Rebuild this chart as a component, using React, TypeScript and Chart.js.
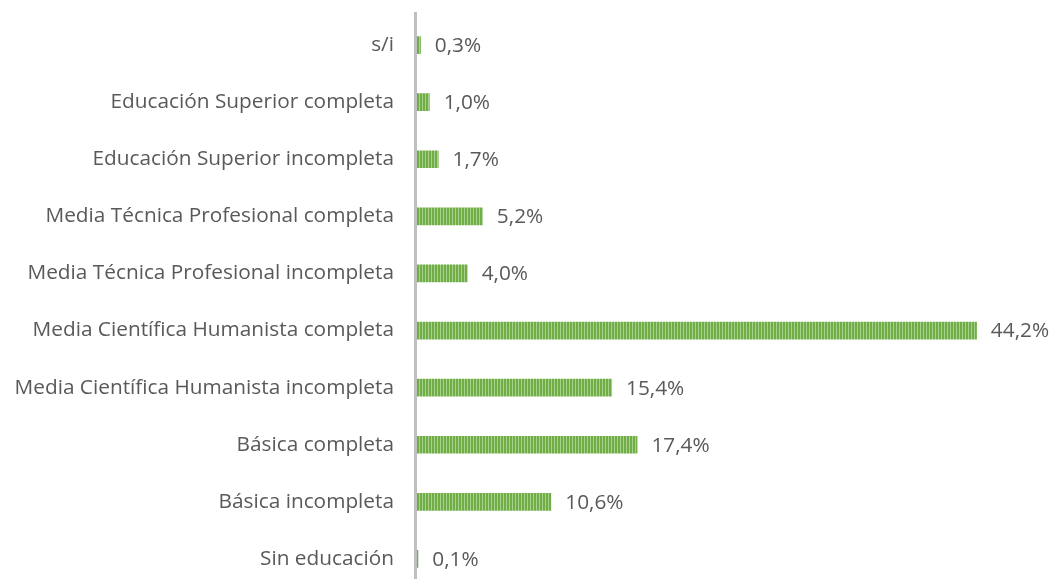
import React, { useEffect, useRef } from "react";
import { Chart, registerables } from "chart.js";

Chart.register(...registerables);

const categories = [
  "s/i",
  "Educación Superior completa",
  "Educación Superior incompleta",
  "Media Técnica Profesional completa",
  "Media Técnica Profesional incompleta",
  "Media Científica Humanista completa",
  "Media Científica Humanista incompleta",
  "Básica completa",
  "Básica incompleta",
  "Sin educación",
];
const values = [0.3, 1.0, 1.7, 5.2, 4.0, 44.2, 15.4, 17.4, 10.6, 0.1];
const valueLabels = ["0,3%", "1,0%", "1,7%", "5,2%", "4,0%", "44,2%", "15,4%", "17,4%", "10,6%", "0,1%"];

const FONT = "'Open Sans'";
const TEXT = "#595959";

function makePattern(ctx: CanvasRenderingContext2D) {
  const c = document.createElement("canvas");
  c.width = 3;
  c.height = 4;
  const g = c.getContext("2d")!;
  g.fillStyle = "#70AD47";
  g.fillRect(0, 0, 2, 4);
  g.fillStyle = "#A9D18E";
  g.fillRect(2, 0, 1, 4);
  return ctx.createPattern(c, "repeat")!;
}

export default function App() {
  const ref = useRef<HTMLCanvasElement>(null);
  useEffect(() => {
    const canvas = ref.current!;
    const ctx = canvas.getContext("2d")!;
    ctx.font = `18px ${FONT}`;
    const w18 = ctx.measureText("Media Científica Humanista completa").width;
    const fs = Math.round((18 * 362 / w18) * 10) / 10;
    const pattern = makePattern(ctx);
    const plugin = {
      id: "custom",
      beforeDatasetsDraw(chart: any) {
        const { ctx, chartArea } = chart;
        ctx.save();
        ctx.strokeStyle = "#BFBFBF";
        ctx.lineWidth = 3;
        ctx.beginPath();
        ctx.moveTo(chartArea.left - 1.5, 31);
        ctx.lineTo(chartArea.left - 1.5, chartArea.bottom);
        ctx.stroke();
        ctx.restore();
      },
      afterDatasetsDraw(chart: any) {
        const { ctx } = chart;
        const meta = chart.getDatasetMeta(0);
        ctx.save();
        ctx.font = `${fs}px ${FONT}`;
        ctx.fillStyle = TEXT;
        ctx.textBaseline = "middle";
        ctx.textAlign = "left";
        meta.data.forEach((bar: any, i: number) => {
          ctx.fillText(valueLabels[i], bar.x + 14, bar.y + 1);
        });
        ctx.restore();
      },
    };
    const chart = new Chart(canvas, {
      type: "bar",
      data: {
        labels: categories,
        datasets: [
          {
            data: values,
            backgroundColor: pattern as any,
            borderWidth: 0,
            categoryPercentage: 1,
            barPercentage: 0.31,
          },
        ],
      },
      options: {
        indexAxis: "y",
        animation: false,
        responsive: false,
        layout: { padding: { top: 14, right: 28, bottom: 12, left: 0 } },
        plugins: { legend: { display: false }, tooltip: { enabled: false } },
        scales: {
          x: { display: false, min: 0, max: 48 },
          y: {
            grid: { display: false, drawTicks: false },
            border: { display: false },
            ticks: { color: TEXT, font: { family: FONT, size: fs }, padding: 23 },
            afterFit(scale: any) {
              scale.width = 417;
            },
          },
        },
      },
      plugins: [plugin],
    });
    return () => chart.destroy();
  }, []);
  return (
    <div style={{ position: "fixed", left: 0, top: 0, width: 1053, height: 579, overflow: "hidden", background: "#fff" }}>
      <canvas ref={ref} width={1053} height={642} style={{ display: "block", position: "absolute", left: 0, top: -19 }} />
    </div>
  );
}
